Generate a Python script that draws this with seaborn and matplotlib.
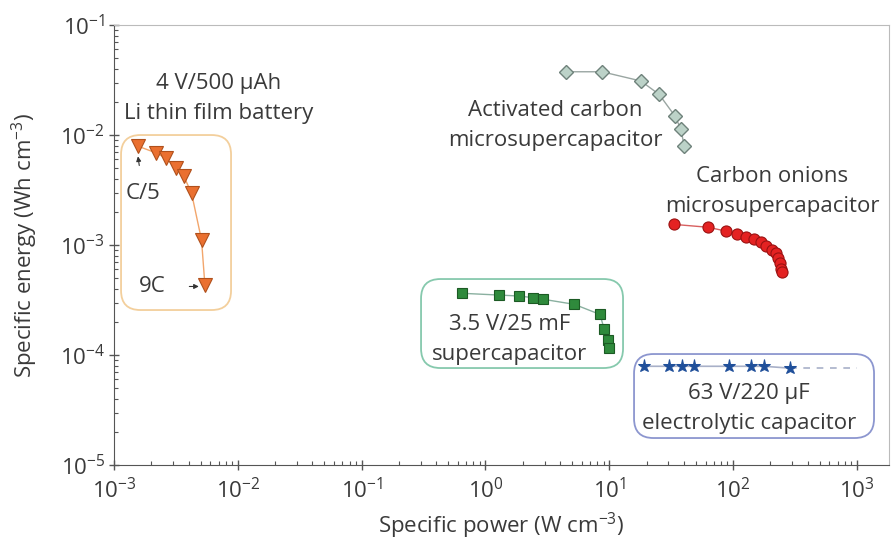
import numpy as np
import seaborn as sns
import matplotlib.pyplot as plt
from matplotlib.patches import FancyBboxPatch
from matplotlib.ticker import LogLocator

sns.set_style('ticks')
plt.rcParams['font.family'] = ['Open Sans', 'DejaVu Sans']
plt.rcParams['mathtext.default'] = 'regular'

# Li thin film battery (C/5 ... 9C)
li_power = [1.57e-3, 2.17e-3, 2.61e-3, 3.18e-3, 3.67e-3, 4.23e-3, 5.09e-3, 5.42e-3]
li_energy = [7.9e-3, 6.9e-3, 6.2e-3, 5.0e-3, 4.2e-3, 2.95e-3, 1.11e-3, 4.3e-4]

# activated carbon microsupercapacitor
ac_power = [4.48, 8.73, 18.0, 25.3, 33.9, 37.8, 40.3, 40.3]
ac_energy = [0.0376, 0.0376, 0.031, 0.0234, 0.0149, 0.0114, 0.0088, 0.0072]

# carbon onions microsupercapacitor
co_power = [33.4, 62.9, 87.3, 108, 128, 148, 167, 186, 205, 221, 232, 239, 245, 247]
co_energy = [1.54e-3, 1.45e-3, 1.34e-3, 1.26e-3, 1.19e-3, 1.13e-3, 1.06e-3,
             9.9e-4, 9.1e-4, 8.4e-4, 7.6e-4, 6.8e-4, 6.1e-4, 5.7e-4]

# 3.5 V / 25 mF supercapacitor
sc_power = [0.649, 1.28, 1.86, 2.44, 2.94, 5.22, 8.41, 9.12, 9.69, 10.0]
sc_energy = [3.64e-4, 3.51e-4, 3.44e-4, 3.32e-4, 3.21e-4, 2.89e-4, 2.34e-4,
             1.71e-4, 1.37e-4, 1.15e-4]

# 63 V / 220 uF electrolytic capacitor
el_power = [19.1, 30.5, 38.8, 48.5, 92.8, 140, 178, 288]
el_energy = [7.9e-5, 7.9e-5, 7.9e-5, 7.9e-5, 7.9e-5, 7.9e-5, 7.9e-5, 7.6e-5]
el_dash_power = [288, 1000]
el_dash_energy = [7.6e-5, 7.6e-5]

x_ticks = [1e-3, 1e-2, 1e-1, 1e0, 1e1, 1e2, 1e3]
y_ticks = [1e-5, 1e-4, 1e-3, 1e-2, 1e-1]

fig = plt.figure(figsize=(8.91, 5.43), dpi=100)
ax = fig.add_axes([0.128, 0.1436, 0.8698, 0.8103])

txt = '#3a3a3a'

sns.lineplot(x=li_power, y=li_energy, sort=False, ax=ax, color='#f2a66c', lw=1,
             marker='v', markersize=10, markerfacecolor='#ea7030',
             markeredgecolor='#b0501c', markeredgewidth=0.8)
sns.lineplot(x=ac_power, y=ac_energy, sort=False, ax=ax, color='#9aa6a2', lw=1,
             marker='D', markersize=7.5, markerfacecolor='#bcd2c8',
             markeredgecolor='#6f827b', markeredgewidth=1)
sns.lineplot(x=co_power, y=co_energy, sort=False, ax=ax, color='#d86060', lw=1,
             marker='o', markersize=8, markerfacecolor='#e42222',
             markeredgecolor='#9a1212', markeredgewidth=0.8)
sns.lineplot(x=sc_power, y=sc_energy, sort=False, ax=ax, color='#8ab0a0', lw=1,
             marker='s', markersize=6.5, markerfacecolor='#2f8a3c',
             markeredgecolor='#1c5a24', markeredgewidth=0.8)
sns.lineplot(x=el_dash_power, y=el_dash_energy, sort=False, ax=ax, color='#a8b0c8',
             lw=1.2, linestyle=(0, (4, 4)))
sns.lineplot(x=el_power, y=el_energy, sort=False, ax=ax, color='#a8b0c8', lw=1.2,
             marker='*', markersize=9.5, markerfacecolor='#1f4f9a',
             markeredgecolor='#1f4f9a')

ax.set_xscale('log')
ax.set_yscale('log')
ax.set_xticks(x_ticks)
ax.set_yticks(y_ticks)
ax.xaxis.set_minor_locator(LogLocator(base=10, subs=np.arange(2, 10), numticks=20))
ax.yaxis.set_minor_locator(LogLocator(base=10, subs=np.arange(2, 10), numticks=20))
ax.set_xlim(1e-3, 10 ** 3.26)
ax.set_ylim(1e-5, 1e-1)

ax.tick_params(which='major', direction='inout', length=7, width=1, color='#555555',
               labelsize=16, labelcolor=txt, top=False, right=False)
ax.tick_params(which='minor', direction='in', length=3, width=0.8, color='#555555',
               top=False, right=False, labelbottom=False, labelleft=False)
ax.tick_params(axis='x', pad=6)
ax.tick_params(axis='y', pad=3)
for s in ['left', 'bottom']:
    ax.spines[s].set_color('#555555')
for s in ['top', 'right']:
    ax.spines[s].set_color('#bbbbbb')

ax.set_xlabel('Specific power (W cm$^{-3}$)', fontsize=16, color=txt, labelpad=5)
ax.set_ylabel('Specific energy (Wh cm$^{-3}$)', fontsize=16, color=txt, labelpad=14)

# rounded boxes, given in pixel edges and turned into axes fractions
def box(x0, y0, x1, y1, color):
    fx0, fx1 = (x0 - 114) / 775, (x1 - 114) / 775
    fy0, fy1 = (465 - y1) / 440, (465 - y0) / 440
    p = FancyBboxPatch((fx0, fy0), fx1 - fx0, fy1 - fy0,
                       boxstyle='round,pad=0,rounding_size=0.025',
                       transform=ax.transAxes, fill=False, ec=color, lw=1.3,
                       mutation_aspect=775 / 440)
    ax.add_patch(p)

box(121, 135, 231, 310, '#f3cf9c')
box(421, 279, 623, 368, '#86c9ad')
box(634, 354, 874, 438, '#8c96cf')

kw = dict(ha='center', va='center', fontsize=16, color=txt, linespacing=1.55)
ax.text(7.0e-3, 0.0215, '4 V/500 µAh\nLi thin film battery', **kw)
ax.text(3.67, 0.0123, 'Activated carbon\nmicrosupercapacitor', **kw)
ax.text(208, 3.06e-3, 'Carbon onions\nmicrosupercapacitor', **kw)
ax.text(1.56, 1.38e-4, '3.5 V/25 mF\nsupercapacitor', **kw)
ax.text(135, 3.27e-5, '63 V/220 µF\nelectrolytic capacitor', **kw)

ax.annotate('C/5', xy=(1.56e-3, 6.4e-3), xytext=(1.72e-3, 2.97e-3),
            ha='center', va='center', fontsize=16, color=txt,
            arrowprops=dict(arrowstyle='-|>', color='#333333', lw=0.8,
                            mutation_scale=7, shrinkA=10, shrinkB=0))
ax.annotate('9C', xy=(4.84e-3, 4.2e-4), xytext=(2.02e-3, 4.2e-4),
            ha='center', va='center', fontsize=16, color=txt,
            arrowprops=dict(arrowstyle='-|>', color='#333333', lw=0.8,
                            mutation_scale=7, shrinkA=15, shrinkB=0))

fig.savefig('out.png', dpi=100)
